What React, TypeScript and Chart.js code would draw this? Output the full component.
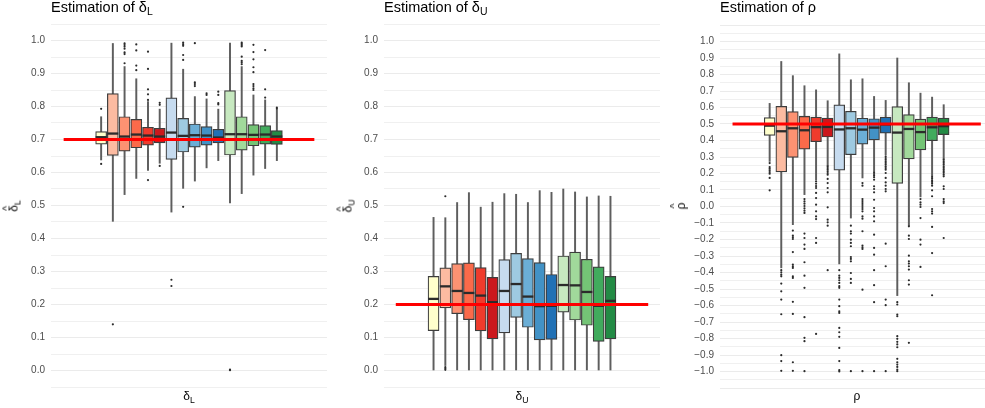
import React, { useEffect, useRef } from 'react';
import { Chart, registerables } from 'chart.js';

Chart.register(...registerables);

const FONT = '"Liberation Sans", Arial, Helvetica, sans-serif';

// ---------- data ----------
const GROUPS = ['A0', 'R1', 'R2', 'R3', 'R4', 'R5', 'B1', 'B2', 'B3', 'B4', 'B5', 'G1', 'G2', 'G3', 'G4', 'G5'];

const COLORS = [
  '#FFFFCC',
  '#FCBBA1', '#FC9272', '#FB6A4A', '#EF3B2C', '#CB181D',
  '#C6DBEF', '#9ECAE1', '#6BAED6', '#4292C6', '#2171B5',
  '#C7E9C0', '#A1D99B', '#74C476', '#41AB5D', '#238B45',
];

// true values (red reference segments)
const TRUE_DELTA_L = 0.7;
const TRUE_DELTA_U = 0.2;
const TRUE_RHO = 0.5;
// reference segment extent, in group-index units
const TRUTH_FROM = -3.2;
const TRUTH_TO = 18.2;

// δL panel
const L_LO = [0.638, 0.452, 0.533, 0.582, 0.606, 0.628, 0.480, 0.552, 0.574, 0.614, 0.636, 0.508, 0.536, 0.592, 0.612, 0.636];
const L_Q1 = [0.686, 0.652, 0.665, 0.675, 0.683, 0.690, 0.640, 0.662, 0.677, 0.683, 0.690, 0.653, 0.668, 0.681, 0.686, 0.685];
const L_MED = [0.707, 0.718, 0.709, 0.715, 0.712, 0.709, 0.721, 0.711, 0.713, 0.712, 0.706, 0.716, 0.716, 0.714, 0.715, 0.709];
const L_Q3 = [0.724, 0.839, 0.769, 0.761, 0.737, 0.734, 0.826, 0.764, 0.747, 0.739, 0.731, 0.848, 0.769, 0.745, 0.742, 0.727];
const L_HI = [0.769, 0.991, 0.921, 0.884, 0.815, 0.792, 0.992, 0.913, 0.830, 0.823, 0.792, 0.992, 0.921, 0.835, 0.820, 0.790];
const L_OUT = [
  [0.793, 0.626],
  [0.140],
  [0.991, 0.986, 0.981, 0.975, 0.964, 0.959, 0.931],
  [0.988, 0.970, 0.924, 0.910],
  [0.966, 0.914, 0.852, 0.837, 0.820, 0.577],
  [0.811, 0.805, 0.620],
  [0.275, 0.256],
  [0.994, 0.989, 0.984, 0.956, 0.941, 0.496],
  [0.992, 0.873, 0.868, 0.862],
  [0.840, 0.835],
  [0.845, 0.835, 0.810, 0.806],
  [0.003, 0.001],
  [0.994, 0.990, 0.986, 0.982, 0.951, 0.938, 0.933, 0.928],
  [0.987, 0.965, 0.943, 0.919, 0.904, 0.868, 0.862, 0.855, 0.850],
  [0.971, 0.852, 0.827],
  [0.797, 0.793],
];

// δU panel
const U_LO = [0, 0.015, 0, 0, 0, 0, 0, 0, 0, 0, 0, 0, 0, 0, 0, 0];
const U_Q1 = [0.121, 0.190, 0.172, 0.154, 0.120, 0.096, 0.114, 0.161, 0.131, 0.093, 0.094, 0.177, 0.153, 0.137, 0.088, 0.096];
const U_MED = [0.217, 0.255, 0.241, 0.235, 0.227, 0.207, 0.241, 0.262, 0.224, 0.195, 0.196, 0.259, 0.258, 0.238, 0.196, 0.211];
const U_Q3 = [0.285, 0.311, 0.324, 0.326, 0.312, 0.282, 0.336, 0.355, 0.339, 0.327, 0.291, 0.347, 0.359, 0.337, 0.314, 0.285];
const U_HI = [0.464, 0.463, 0.509, 0.539, 0.495, 0.510, 0.536, 0.534, 0.509, 0.545, 0.540, 0.550, 0.541, 0.526, 0.529, 0.528];
const U_OUT = [
  [], [0.528, 0.010, 0.006, 0.002], [], [], [], [], [], [], [], [], [], [], [], [], [], [],
];

// ρ panel
const R_LO = [0.273, -0.372, -0.110, 0.072, 0.162, 0.247, -0.348, -0.070, 0.173, 0.213, 0.314, -0.540, -0.116, 0.058, 0.187, 0.288];
const R_Q1 = [0.431, 0.210, 0.298, 0.348, 0.393, 0.421, 0.220, 0.314, 0.378, 0.404, 0.445, 0.140, 0.288, 0.343, 0.399, 0.436];
const R_MED = [0.490, 0.456, 0.474, 0.462, 0.481, 0.482, 0.467, 0.474, 0.466, 0.478, 0.497, 0.448, 0.470, 0.451, 0.480, 0.487];
const R_Q3 = [0.539, 0.607, 0.575, 0.546, 0.542, 0.536, 0.616, 0.577, 0.535, 0.532, 0.542, 0.605, 0.557, 0.530, 0.542, 0.536];
const R_HI = [0.625, 0.879, 0.793, 0.732, 0.707, 0.641, 0.925, 0.768, 0.774, 0.667, 0.643, 0.900, 0.750, 0.687, 0.663, 0.617];
const R_OUT = [
  [0.263, 0.239, 0.229, 0.219, 0.209, 0.199, 0.173, 0.098],
  [-0.386, -0.399, -0.413, -0.423, -0.467, -0.514, -0.564, -0.653, -0.901, -0.937, -0.996],
  [-0.146, -0.177, -0.187, -0.197, -0.276, -0.352, -0.362, -0.372, -0.423, -0.433, -0.578, -0.651, -0.944, -0.996],
  [0.045, 0.031, 0.017, 0.003, -0.011, -0.025, -0.039, -0.164, -0.191, -0.231, -0.257, -0.338, -0.419, -0.493, -0.671, -0.796, -0.816, -0.998],
  [0.152, 0.138, 0.124, 0.112, 0.082, 0.051, 0.011, -0.029, -0.060, -0.076, -0.191, -0.221, -0.772],
  [0.243, 0.233, 0.223, 0.213, 0.203, 0.193, 0.167, 0.142, 0.112, 0.086, -0.005, -0.080, -0.096, -0.116, -0.386],
  [-0.386, -0.419, -0.433, -0.447, -0.463, -0.483, -0.493, -0.564, -0.604, -0.635, -0.645, -0.736, -0.762, -0.790, -0.857, -0.937, -0.992, -1.0],
  [-0.116, -0.150, -0.164, -0.201, -0.221, -0.241, -0.306, -0.318, -0.332, -0.403, -0.439, -0.463, -0.998],
  [0.142, 0.126, 0.045, 0.033, 0.021, 0.009, -0.003, -0.015, -0.029, -0.060, -0.074, -0.150, -0.237, -0.247, -0.257, -0.504, -0.998],
  [0.207, 0.197, 0.187, 0.177, 0.162, 0.122, 0.106, 0.086, 0.041, -0.009, -0.029, -0.060, -0.090, -0.171, -0.251, -0.292, -0.386, -0.477, -0.580, -0.998],
  [0.304, 0.294, 0.284, 0.274, 0.264, 0.254, 0.243, 0.233, 0.223, 0.203, 0.173, 0.146, 0.126, 0.106, 0.092, -0.225, -0.362, -0.564, -0.598, -0.998],
  [-0.580, -0.594, -0.655, -0.665, -0.786, -0.802, -0.820, -0.836, -0.853, -0.923, -0.944, -0.958, -0.972, -0.988, -0.998],
  [-0.120, -0.177, -0.197, -0.298, -0.332, -0.346, -0.362, -0.382, -0.447, -0.473, -0.826],
  [0.045, 0.025, 0.011, -0.003, -0.070, -0.201, -0.231, -0.366],
  [0.179, 0.169, 0.159, 0.149, 0.139, 0.126, 0.098, 0.062, -0.015, -0.029, -0.043, -0.124, -0.282, -0.538],
  [0.284, 0.274, 0.264, 0.254, 0.244, 0.234, 0.224, 0.214, 0.204, 0.193, 0.183, 0.122, 0.106, 0.045, 0.031, 0.021, -0.191],
];

// tick label ranges
const L_TICKS = { min: 0, max: 1 };
const R_TICKS = { min: -1, max: 1 };

// ---------- layout ----------
type PanelCfg = {
  id: string;
  titleMain: string;
  sym: string;
  sub: string;
  lo: number[]; q1: number[]; med: number[]; q3: number[]; hi: number[]; out: number[][];
  truth: number;
  yMin: number; yMax: number; tickMin: number; tickMax: number;
  left: number; width: number; yAxisWidth: number; top: number; bottom: number;
  xMin: number; xMax: number; box: number;
  xTitleX: number; yTitleX: number;
};

const PANELS: PanelCfg[] = [
  {
    id: 'dl', titleMain: 'Estimation of ', sym: 'δ', sub: 'L',
    lo: L_LO, q1: L_Q1, med: L_MED, q3: L_Q3, hi: L_HI, out: L_OUT, truth: TRUE_DELTA_L,
    yMin: -0.05, yMax: 1.05, tickMin: L_TICKS.min, tickMax: L_TICKS.max,
    left: 0, width: 327, yAxisWidth: 51, top: 24, bottom: 387,
    xMin: -4.28, xMax: 19.28, box: 11, xTitleX: 189, yTitleX: 14,
  },
  {
    id: 'du', titleMain: 'Estimation of ', sym: 'δ', sub: 'U',
    lo: U_LO, q1: U_Q1, med: U_MED, q3: U_Q3, hi: U_HI, out: U_OUT, truth: TRUE_DELTA_U,
    yMin: -0.05, yMax: 1.05, tickMin: L_TICKS.min, tickMax: L_TICKS.max,
    left: 330, width: 330, yAxisWidth: 54, top: 24, bottom: 387,
    xMin: -4.2, xMax: 19.2, box: 11, xTitleX: 522, yTitleX: 348,
  },
  {
    id: 'rho', titleMain: 'Estimation of ', sym: 'ρ', sub: '',
    lo: R_LO, q1: R_Q1, med: R_MED, q3: R_Q3, hi: R_HI, out: R_OUT, truth: TRUE_RHO,
    yMin: -1.1, yMax: 1.1, tickMin: R_TICKS.min, tickMax: R_TICKS.max,
    left: 660, width: 325, yAxisWidth: 60, top: 25, bottom: 388,
    xMin: -4.28, xMax: 18.56, box: 10.8, xTitleX: 857, yTitleX: 681,
  },
];

function Sub({ children }: { children: React.ReactNode }) {
  return (
    <span style={{ fontSize: '0.72em', position: 'relative', top: '0.32em' }}>{children}</span>
  );
}

function Hat({ children }: { children: React.ReactNode }) {
  return (
    <span style={{ position: 'relative', display: 'inline-block' }}>
      {children}
      <span style={{ position: 'absolute', left: 0, right: 0, top: '-0.62em', textAlign: 'center', fontSize: '0.85em' }}>^</span>
    </span>
  );
}

function BoxPanel({ cfg }: { cfg: PanelCfg }) {
  const ref = useRef<HTMLCanvasElement>(null);

  useEffect(() => {
    if (!ref.current) return;
    const outliers: { x: number; y: number }[] = [];
    cfg.out.forEach((arr, i) => arr.forEach((v) => outliers.push({ x: i, y: v })));

    const isMajor = (v: number) => Math.abs(Math.round(v * 20)) % 2 === 0;

    const chart = new Chart(ref.current, {
      type: 'bar',
      data: {
        labels: GROUPS,
        datasets: [
          {
            type: 'line',
            label: 'true value',
            data: [{ x: TRUTH_FROM, y: cfg.truth }, { x: TRUTH_TO, y: cfg.truth }],
            borderColor: '#FF0000',
            borderWidth: 2.8,
            pointRadius: 0,
            order: 0,
          } as any,
          {
            type: 'scatter',
            label: 'median',
            data: cfg.med.map((m, i) => ({ x: i, y: m })),
            pointStyle: 'line',
            pointRadius: cfg.box / 2,
            pointBorderColor: '#2b2b2b',
            pointBorderWidth: 2.3,
            order: 1,
          } as any,
          {
            type: 'scatter',
            label: 'outliers',
            data: outliers,
            pointRadius: 1.1,
            pointBackgroundColor: '#2b2b2b',
            pointBorderWidth: 0,
            order: 1,
          } as any,
          {
            type: 'bar',
            label: 'IQR',
            data: cfg.q1.map((q, i) => ({ x: i, y: [q, cfg.q3[i]] })),
            backgroundColor: COLORS,
            borderColor: '#3d3d3d',
            borderWidth: 1.2,
            borderSkipped: false,
            barThickness: cfg.box,
            grouped: false,
            order: 2,
          } as any,
          {
            type: 'bar',
            label: 'whiskers',
            data: cfg.lo.map((l, i) => ({ x: i, y: [l, cfg.hi[i]] })),
            backgroundColor: '#5e5e5e',
            borderWidth: 0,
            barThickness: 1.3,
            grouped: false,
            order: 3,
          } as any,
        ],
      },
      options: {
        animation: false,
        responsive: false,
        devicePixelRatio: 1,
        events: [],
        layout: { autoPadding: false, padding: { top: cfg.top, bottom: 408 - cfg.bottom, left: 0, right: 0 } },
        plugins: { legend: { display: false }, tooltip: { enabled: false }, title: { display: false } },
        scales: {
          x: { type: 'linear', min: cfg.xMin, max: cfg.xMax, display: false, offset: false } as any,
          y: {
            type: 'linear',
            min: cfg.yMin,
            max: cfg.yMax,
            afterFit: (s: any) => { s.width = cfg.yAxisWidth; },
            border: { display: false },
            grid: {
              drawTicks: false,
              lineWidth: 1,
              color: (ctx: any) => (isMajor(ctx.tick ? ctx.tick.value : 0) ? '#EBEBEB' : '#F0F0F0'),
            },
            ticks: {
              stepSize: 0.05,
              autoSkip: false,
              padding: 6,
              color: '#4D4D4D',
              font: { size: 10, family: FONT },
              callback: (value: any) => {
                const v = Number(value);
                const t = Math.round(v * 20);
                if (t % 2 !== 0) return '';
                const r = t / 20;
                if (r < cfg.tickMin - 1e-9 || r > cfg.tickMax + 1e-9) return '';
                return (r < 0 ? '\u2212' : '') + Math.abs(r).toFixed(1);
              },
            },
          } as any,
        },
      },
    });
    return () => chart.destroy();
  }, [cfg]);

  const plotLeft = cfg.left + cfg.yAxisWidth;
  return (
    <>
      <div style={{ position: 'absolute', left: cfg.left, top: 0, width: cfg.width, height: 408 }}>
        <canvas ref={ref} width={cfg.width} height={408} style={{ width: cfg.width, height: 408, display: 'block' }} />
      </div>
      <div style={{ position: 'absolute', left: plotLeft, top: 0, fontSize: 14.5, lineHeight: '15px', color: '#000', whiteSpace: 'nowrap' }}>
        {cfg.titleMain}{cfg.sym}{cfg.sub ? <Sub>{cfg.sub}</Sub> : null}
      </div>
      <div style={{ position: 'absolute', left: cfg.xTitleX, top: 389, transform: 'translateX(-50%)', fontSize: 12, lineHeight: '14px', color: '#000', whiteSpace: 'nowrap' }}>
        {cfg.sym}{cfg.sub ? <Sub>{cfg.sub}</Sub> : null}
      </div>
      <div style={{ position: 'absolute', left: cfg.yTitleX, top: 206, transform: 'translate(-50%, -50%) rotate(-90deg)', fontSize: 12, lineHeight: '14px', color: '#000', whiteSpace: 'nowrap' }}>
        <Hat>{cfg.sym}</Hat>{cfg.sub ? <Sub>{cfg.sub}</Sub> : null}
      </div>
    </>
  );
}

export default function App() {
  return (
    <div style={{ position: 'fixed', left: 0, top: 0, width: 985, height: 408, overflow: 'hidden', background: '#fff', fontFamily: FONT }}>
      {PANELS.map((p) => <BoxPanel key={p.id} cfg={p} />)}
    </div>
  );
}
